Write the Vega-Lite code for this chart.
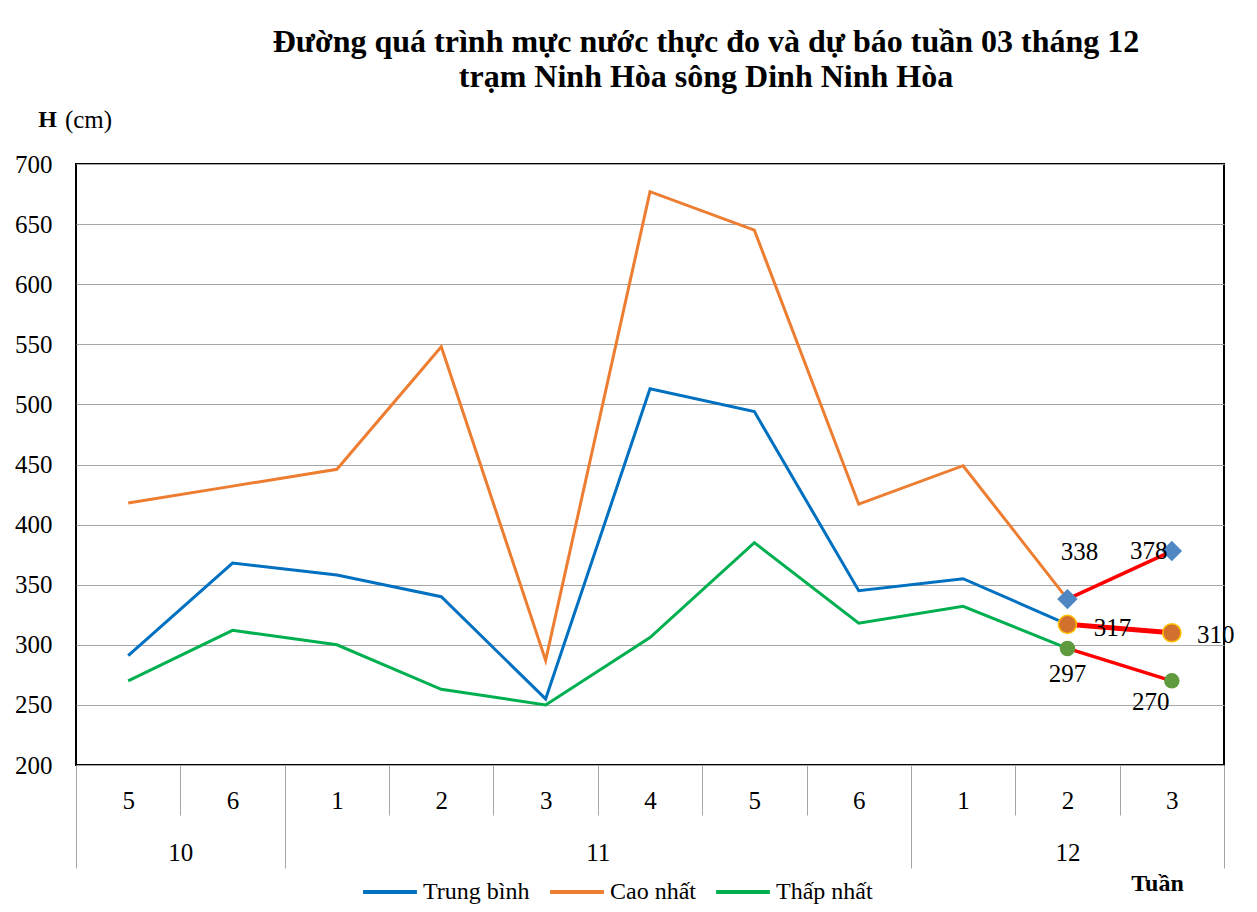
{
  "$schema": "https://vega.github.io/schema/vega-lite/v6.json",
  "width": 1148,
  "height": 601,
  "autosize": {"type": "none"},
  "padding": {"left": 76, "top": 164, "right": 33, "bottom": 147},
  "background": "white",
  "config": {
    "view": {"stroke": "#000000", "strokeWidth": 2},
    "font": "Liberation Serif",
    "axis": {"labelFont": "Liberation Serif", "titleFont": "Liberation Serif", "labelColor": "#000000", "titleColor": "#000000", "labelFlush": false, "labelOverlap": false}
  },
  "title": {
    "text": ["Đường quá trình mực nước thực đo và dự báo tuần 03 tháng 12", "trạm Ninh Hòa sông Dinh Ninh Hòa"],
    "font": "Liberation Serif",
    "fontSize": 32,
    "fontWeight": "bold",
    "color": "#000000",
    "anchor": "middle",
    "frame": "group",
    "dx": 56,
    "lineHeight": 35,
    "offset": 13
  },
  "datasets": {
    "obs": [
      {"pos": 1, "month": "10", "week": "5", "series": "Trung bình", "H": 291},
      {"pos": 2, "month": "10", "week": "6", "series": "Trung bình", "H": 368},
      {"pos": 3, "month": "11", "week": "1", "series": "Trung bình", "H": 358},
      {"pos": 4, "month": "11", "week": "2", "series": "Trung bình", "H": 340},
      {"pos": 5, "month": "11", "week": "3", "series": "Trung bình", "H": 255},
      {"pos": 6, "month": "11", "week": "4", "series": "Trung bình", "H": 513},
      {"pos": 7, "month": "11", "week": "5", "series": "Trung bình", "H": 494},
      {"pos": 8, "month": "11", "week": "6", "series": "Trung bình", "H": 345},
      {"pos": 9, "month": "12", "week": "1", "series": "Trung bình", "H": 355},
      {"pos": 10, "month": "12", "week": "2", "series": "Trung bình", "H": 317},
      {"pos": 1, "month": "10", "week": "5", "series": "Cao nhất", "H": 418},
      {"pos": 2, "month": "10", "week": "6", "series": "Cao nhất", "H": 432},
      {"pos": 3, "month": "11", "week": "1", "series": "Cao nhất", "H": 446},
      {"pos": 4, "month": "11", "week": "2", "series": "Cao nhất", "H": 548},
      {"pos": 5, "month": "11", "week": "3", "series": "Cao nhất", "H": 287},
      {"pos": 6, "month": "11", "week": "4", "series": "Cao nhất", "H": 677},
      {"pos": 7, "month": "11", "week": "5", "series": "Cao nhất", "H": 645},
      {"pos": 8, "month": "11", "week": "6", "series": "Cao nhất", "H": 417},
      {"pos": 9, "month": "12", "week": "1", "series": "Cao nhất", "H": 449},
      {"pos": 10, "month": "12", "week": "2", "series": "Cao nhất", "H": 338},
      {"pos": 1, "month": "10", "week": "5", "series": "Thấp nhất", "H": 270},
      {"pos": 2, "month": "10", "week": "6", "series": "Thấp nhất", "H": 312},
      {"pos": 3, "month": "11", "week": "1", "series": "Thấp nhất", "H": 300},
      {"pos": 4, "month": "11", "week": "2", "series": "Thấp nhất", "H": 263},
      {"pos": 5, "month": "11", "week": "3", "series": "Thấp nhất", "H": 250},
      {"pos": 6, "month": "11", "week": "4", "series": "Thấp nhất", "H": 306},
      {"pos": 7, "month": "11", "week": "5", "series": "Thấp nhất", "H": 385},
      {"pos": 8, "month": "11", "week": "6", "series": "Thấp nhất", "H": 318},
      {"pos": 9, "month": "12", "week": "1", "series": "Thấp nhất", "H": 332},
      {"pos": 10, "month": "12", "week": "2", "series": "Thấp nhất", "H": 297}
    ],
    "fc": [
      {"pos": 10, "month": "12", "week": "2", "series": "Cao nhất", "H": 338},
      {"pos": 11, "month": "12", "week": "3", "series": "Cao nhất", "H": 378},
      {"pos": 10, "month": "12", "week": "2", "series": "Trung bình", "H": 317},
      {"pos": 11, "month": "12", "week": "3", "series": "Trung bình", "H": 310},
      {"pos": 10, "month": "12", "week": "2", "series": "Thấp nhất", "H": 297},
      {"pos": 11, "month": "12", "week": "3", "series": "Thấp nhất", "H": 270}
    ]
  },
  "layer": [
    {
      "data": {"name": "obs"},
      "mark": {"type": "line", "strokeWidth": 3},
      "encoding": {
        "x": {"field": "pos", "type": "quantitative", "scale": {"domain": [0.5, 11.5], "nice": false, "zero": false},
          "axis": {"orient": "bottom", "values": [1, 2, 3, 4, 5, 6, 7, 8, 9, 10, 11],
            "labelExpr": "['5','6','1','2','3','4','5','6','1','2','3'][datum.value - 1]",
            "ticks": false, "domain": false, "grid": false, "labelPadding": 35, "labelBaseline": "middle", "labelFontSize": 25, "title": null}},
        "y": {"field": "H", "type": "quantitative", "scale": {"domain": [200, 700], "nice": false, "zero": false},
          "axis": {"orient": "left", "values": [200, 250, 300, 350, 400, 450, 500, 550, 600, 650, 700],
            "grid": true, "gridColor": "#A6A6A6", "gridWidth": 1, "ticks": false, "domain": false,
            "labelPadding": 24, "labelFontSize": 25,
            "title": "H", "titleAngle": 0, "titleX": -29, "titleY": -45, "titleAlign": "center", "titleBaseline": "middle", "titleFontSize": 24, "titleFontWeight": "bold"}},
        "color": {"field": "series", "type": "nominal",
          "scale": {"domain": ["Trung bình", "Cao nhất", "Thấp nhất"], "range": ["#0070C0", "#ED7D31", "#00B050"]},
          "legend": {"orient": "none", "legendX": 285, "legendY": 699, "direction": "horizontal", "title": null,
            "symbolType": "stroke", "symbolSize": 2900, "symbolStrokeWidth": 4, "labelFontSize": 24, "labelFont": "Liberation Serif", "labelColor": "#000000", "columnPadding": 12, "labelOffset": 4, "padding": 0}}
      }
    },
    {
      "data": {"name": "fc"},
      "mark": {"type": "line", "color": "#FF0000"},
      "encoding": {
        "x": {"field": "pos", "type": "quantitative", "scale": {"domain": [0.5, 11.5], "nice": false, "zero": false},
          "axis": {"orient": "bottom", "values": [1.5, 2.5, 3.5, 4.5, 5.5, 6.5, 7.5, 8.5, 9.5, 10.5], "labels": false, "ticks": true, "tickSize": 50, "tickColor": "#A6A6A6", "tickWidth": 1, "domain": false, "grid": false, "title": null}},
        "y": {"field": "H", "type": "quantitative", "scale": {"domain": [200, 700], "nice": false, "zero": false},
          "axis": {"orient": "left", "labels": false, "ticks": false, "domain": false, "grid": false,
            "title": "(cm)", "titleAngle": 0, "titleX": 12, "titleY": -45, "titleAlign": "center", "titleBaseline": "middle", "titleFontSize": 25, "titleFontWeight": "normal"}},
        "detail": {"field": "series", "type": "nominal"},
        "strokeWidth": {"condition": {"test": "datum.series === 'Trung bình'", "value": 5}, "value": 3.5}
      }
    },
    {
      "data": {"name": "fc"},
      "transform": [{"filter": "datum.series === 'Cao nhất'"}],
      "mark": {"type": "point", "shape": "diamond", "filled": true, "color": "#4F87C2", "opacity": 1, "size": 420},
      "encoding": {
        "x": {"field": "pos", "type": "quantitative", "scale": {"domain": [0.5, 11.5], "nice": false, "zero": false},
          "axis": {"orient": "bottom", "values": [0.5, 2.5, 8.5, 11.5], "labels": false, "ticks": true, "tickSize": 103, "tickColor": "#A6A6A6", "tickWidth": 1, "domain": false, "grid": false, "title": null}},
        "y": {"field": "H", "type": "quantitative", "scale": {"domain": [200, 700], "nice": false, "zero": false}, "axis": null}
      }
    },
    {
      "data": {"name": "fc"},
      "transform": [{"filter": "datum.series === 'Trung bình'"}],
      "mark": {"type": "point", "shape": "circle", "filled": true, "fill": "#D2702E", "stroke": "#FFC000", "strokeWidth": 1.5, "opacity": 1, "size": 330},
      "encoding": {
        "x": {"field": "pos", "type": "quantitative", "scale": {"domain": [0.5, 11.5], "nice": false, "zero": false},
          "axis": {"orient": "bottom", "values": [1.5, 5.5, 10],
            "labelExpr": "datum.value == 1.5 ? '10' : datum.value == 5.5 ? '11' : '12'",
            "ticks": false, "domain": false, "grid": false, "labelPadding": 87, "labelBaseline": "middle", "labelFontSize": 25,
            "title": "Tuần", "titleX": 1081, "titleY": 118, "titleAlign": "center", "titleBaseline": "middle", "titleFontSize": 24, "titleFontWeight": "bold"}},
        "y": {"field": "H", "type": "quantitative", "scale": {"domain": [200, 700], "nice": false, "zero": false}, "axis": null}
      }
    },
    {
      "data": {"name": "fc"},
      "transform": [{"filter": "datum.series === 'Thấp nhất'"}],
      "mark": {"type": "point", "shape": "circle", "filled": true, "color": "#5F9B3E", "opacity": 1, "size": 240},
      "encoding": {
        "x": {"field": "pos", "type": "quantitative", "scale": {"domain": [0.5, 11.5], "nice": false, "zero": false}, "axis": null},
        "y": {"field": "H", "type": "quantitative", "scale": {"domain": [200, 700], "nice": false, "zero": false}, "axis": null}
      }
    },
    {
      "data": {"name": "fc"},
      "transform": [{"filter": "datum.series === 'Cao nhất' && datum.pos === 10"}],
      "mark": {"type": "text", "fontSize": 25, "font": "Liberation Serif", "color": "#000000", "dx": 12, "dy": -47},
      "encoding": {
        "x": {"field": "pos", "type": "quantitative", "scale": {"domain": [0.5, 11.5], "nice": false, "zero": false}, "axis": null},
        "y": {"field": "H", "type": "quantitative", "scale": {"domain": [200, 700], "nice": false, "zero": false}, "axis": null},
        "text": {"field": "H", "type": "quantitative"}
      }
    },
    {
      "data": {"name": "fc"},
      "transform": [{"filter": "datum.series === 'Cao nhất' && datum.pos === 11"}],
      "mark": {"type": "text", "fontSize": 25, "font": "Liberation Serif", "color": "#000000", "dx": -23, "dy": 0},
      "encoding": {
        "x": {"field": "pos", "type": "quantitative", "scale": {"domain": [0.5, 11.5], "nice": false, "zero": false}, "axis": null},
        "y": {"field": "H", "type": "quantitative", "scale": {"domain": [200, 700], "nice": false, "zero": false}, "axis": null},
        "text": {"field": "H", "type": "quantitative"}
      }
    },
    {
      "data": {"name": "fc"},
      "transform": [{"filter": "datum.series === 'Trung bình' && datum.pos === 10"}],
      "mark": {"type": "text", "fontSize": 25, "font": "Liberation Serif", "color": "#000000", "dx": 45, "dy": 4},
      "encoding": {
        "x": {"field": "pos", "type": "quantitative", "scale": {"domain": [0.5, 11.5], "nice": false, "zero": false}, "axis": null},
        "y": {"field": "H", "type": "quantitative", "scale": {"domain": [200, 700], "nice": false, "zero": false}, "axis": null},
        "text": {"field": "H", "type": "quantitative"}
      }
    },
    {
      "data": {"name": "fc"},
      "transform": [{"filter": "datum.series === 'Trung bình' && datum.pos === 11"}],
      "mark": {"type": "text", "fontSize": 25, "font": "Liberation Serif", "color": "#000000", "dx": 44, "dy": 2},
      "encoding": {
        "x": {"field": "pos", "type": "quantitative", "scale": {"domain": [0.5, 11.5], "nice": false, "zero": false}, "axis": null},
        "y": {"field": "H", "type": "quantitative", "scale": {"domain": [200, 700], "nice": false, "zero": false}, "axis": null},
        "text": {"field": "H", "type": "quantitative"}
      }
    },
    {
      "data": {"name": "fc"},
      "transform": [{"filter": "datum.series === 'Thấp nhất' && datum.pos === 10"}],
      "mark": {"type": "text", "fontSize": 25, "font": "Liberation Serif", "color": "#000000", "dx": 0, "dy": 26},
      "encoding": {
        "x": {"field": "pos", "type": "quantitative", "scale": {"domain": [0.5, 11.5], "nice": false, "zero": false}, "axis": null},
        "y": {"field": "H", "type": "quantitative", "scale": {"domain": [200, 700], "nice": false, "zero": false}, "axis": null},
        "text": {"field": "H", "type": "quantitative"}
      }
    },
    {
      "data": {"name": "fc"},
      "transform": [{"filter": "datum.series === 'Thấp nhất' && datum.pos === 11"}],
      "mark": {"type": "text", "fontSize": 25, "font": "Liberation Serif", "color": "#000000", "dx": -21, "dy": 21},
      "encoding": {
        "x": {"field": "pos", "type": "quantitative", "scale": {"domain": [0.5, 11.5], "nice": false, "zero": false}, "axis": null},
        "y": {"field": "H", "type": "quantitative", "scale": {"domain": [200, 700], "nice": false, "zero": false}, "axis": null},
        "text": {"field": "H", "type": "quantitative"}
      }
    }
  ],
  "resolve": {"axis": {"x": "independent", "y": "independent"}}
}
